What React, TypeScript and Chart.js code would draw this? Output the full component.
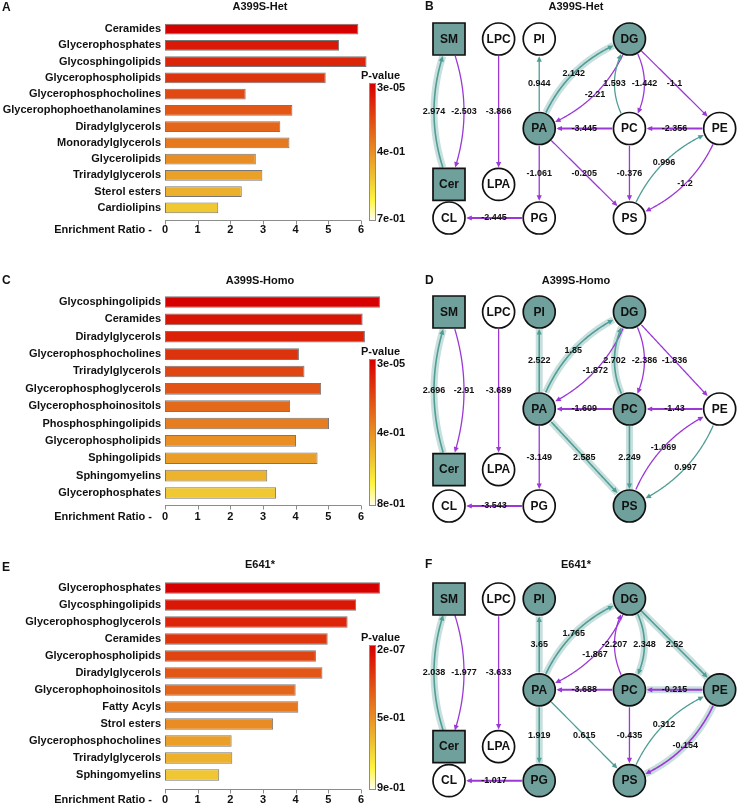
import React, { useEffect, useRef } from 'react';
import { Chart, registerables } from 'chart.js';

Chart.register(...registerables);

const FONT = "'Liberation Sans', Arial, Helvetica, sans-serif";

// ---------------- Enrichment (ORA) data ----------------
const hetCategories = ['Ceramides', 'Glycerophosphates', 'Glycosphingolipids', 'Glycerophospholipids', 'Glycerophosphocholines', 'Glycerophophoethanolamines', 'Diradylglycerols', 'Monoradylglycerols', 'Glycerolipids', 'Triradylglycerols', 'Sterol esters', 'Cardiolipins'];
const hetRatios = [5.92, 5.33, 6.17, 4.92, 2.47, 3.9, 3.53, 3.81, 2.78, 2.98, 2.35, 1.63];
const hetPValues = [0.00003, 0.064, 0.093, 0.127, 0.181, 0.211, 0.25, 0.294, 0.348, 0.392, 0.431, 0.49];
const hetPRange = [0.00003, 0.7];
const hetPTicks = ['3e-05', '4e-01', '7e-01'];

const homoCategories = ['Glycosphingolipids', 'Ceramides', 'Diradylglycerols', 'Glycerophosphocholines', 'Triradylglycerols', 'Glycerophosphoglycerols', 'Glycerophosphoinositols', 'Phosphosphingolipids', 'Glycerophospholipids', 'Sphingolipids', 'Sphingomyelins', 'Glycerophosphates'];
const homoRatios = [6.58, 6.05, 6.12, 4.1, 4.27, 4.78, 3.83, 5.02, 4.01, 4.67, 3.13, 3.4];
const homoPValues = [0.00003, 0.055, 0.094, 0.14, 0.19, 0.23, 0.29, 0.34, 0.39, 0.43, 0.49, 0.546];
const homoPRange = [0.00003, 0.78];
const homoPTicks = ['3e-05', '4e-01', '8e-01'];

const e641Categories = ['Glycerophosphates', 'Glycosphingolipids', 'Glycerophosphoglycerols', 'Ceramides', 'Glycerophospholipids', 'Diradylglycerols', 'Glycerophophoinositols', 'Fatty Acyls', 'Strol esters', 'Glycerophosphocholines', 'Triradylglycerols', 'Sphingomyelins'];
const e641Ratios = [6.58, 5.85, 5.59, 4.98, 4.62, 4.82, 4.0, 4.08, 3.31, 2.04, 2.06, 1.66];
const e641PValues = [0.0000002, 0.07, 0.12, 0.17, 0.22, 0.28, 0.33, 0.39, 0.45, 0.51, 0.57, 0.64];
const e641PRange = [0.0000002, 0.92];
const e641PTicks = ['2e-07', '5e-01', '9e-01'];

// ---------------- Network data ----------------
const nodeNames = ['SM', 'LPC', 'PI', 'DG', 'PA', 'PC', 'PE', 'Cer', 'LPA', 'CL', 'PG', 'PS'];
const nodeCols = [0, 1.1, 2, 4, 2, 4, 6, 0, 1.1, 0, 2, 4];
const nodeRows = [0, 0, 0, 0, 2, 2, 2, 3.25, 3.25, 4, 4, 4];
const squareNodes = ['SM', 'Cer'];

const hetChanged = ['SM', 'Cer', 'DG', 'PA'];
const hetEdges = ['Cer>SM', 'SM>Cer', 'LPC>LPA', 'PA>PI', 'PA>DG', 'DG>PA', 'PC>DG', 'DG>PC', 'DG>PE', 'PC>PA', 'PE>PC', 'PA>PG', 'PA>PS', 'PC>PS', 'PS>PE', 'PE>PS', 'PG>CL'];
const hetEdgeValues = [2.974, -2.503, -3.866, 0.944, 2.142, -2.21, 1.593, -1.442, -1.1, -3.445, -2.356, -1.061, -0.205, -0.376, 0.996, -1.2, -2.445];
const hetHalo = ['Cer>SM', 'PA>DG'];

const homoChanged = ['SM', 'Cer', 'PI', 'DG', 'PA', 'PC', 'PS'];
const homoEdges = ['Cer>SM', 'SM>Cer', 'LPC>LPA', 'PA>PI', 'PA>DG', 'DG>PA', 'PC>DG', 'DG>PC', 'DG>PE', 'PC>PA', 'PE>PC', 'PA>PG', 'PA>PS', 'PC>PS', 'PS>PE', 'PE>PS', 'PG>CL'];
const homoEdgeValues = [2.696, -2.91, -3.689, 2.522, 1.85, -1.872, 2.702, -2.386, -1.836, -1.609, -1.43, -3.149, 2.585, 2.249, -1.069, 0.997, -3.543];
const homoHalo = ['Cer>SM', 'PA>PI', 'PA>DG', 'PC>DG', 'PA>PS', 'PC>PS'];

const e641Changed = ['SM', 'Cer', 'PI', 'DG', 'PA', 'PC', 'PE', 'PG', 'PS'];
const e641Edges = ['Cer>SM', 'SM>Cer', 'LPC>LPA', 'PA>PI', 'PA>DG', 'DG>PA', 'PC>DG', 'DG>PC', 'DG>PE', 'PC>PA', 'PE>PC', 'PA>PG', 'PA>PS', 'PC>PS', 'PS>PE', 'PE>PS', 'PG>CL'];
const e641EdgeValues = [2.038, -1.977, -3.633, 3.65, 1.765, -1.867, -2.207, 2.348, 2.52, -3.688, -0.215, 1.919, 0.615, -0.435, 0.312, -0.154, -1.017];
const e641Halo = ['Cer>SM', 'PA>PI', 'PA>DG', 'DG>PC', 'DG>PE', 'PE>PC', 'PA>PG', 'PE>PS'];

// ---------------- styling helpers ----------------
const HEAT_STOPS: [number, number[]][] = [
  [0, [215, 0, 0]],
  [0.7, [240, 200, 50]],
  [0.85, [255, 245, 60]],
  [1, [255, 255, 242]],
];
const rgb = (c: number[]) => `rgb(${Math.round(c[0])},${Math.round(c[1])},${Math.round(c[2])})`;
function heat(t: number) {
  const v = Math.max(0, Math.min(1, t));
  for (let i = 1; i < HEAT_STOPS.length; i++) {
    const [s1, c1] = HEAT_STOPS[i];
    const [s0, c0] = HEAT_STOPS[i - 1];
    if (v <= s1) {
      const f = (v - s0) / (s1 - s0);
      return rgb(c0.map((c, k) => c + (c1[k] - c) * f));
    }
  }
  return rgb(HEAT_STOPS[HEAT_STOPS.length - 1][1]);
}

const TEAL_NODE = '#6fa09b';
const TEAL_LINE = '#4f9d95';
const PURPLE_LINE = '#9b38d6';
const HALO = 'rgba(125,180,174,0.42)';
const NODE_R = 16;
const BOW = 30;

type BarProps = {
  top: number; height: number; letter: string; title: string;
  categories: string[]; ratios: number[]; pvalues: number[]; pRange: number[]; pTicks: string[];
  bandTop: number; bandBottom: number; axisGap: number; labelPad: number; titleY: number; letterY: number;
};

function BarPanel(p: BarProps) {
  const ref = useRef<HTMLCanvasElement>(null);
  useEffect(() => {
    const W = 420;
    const colors = p.pvalues.map(v => heat((v - p.pRange[0]) / (p.pRange[1] - p.pRange[0])));
    const decor = {
      id: 'decor',
      afterDraw(chart: any) {
        const ctx = chart.ctx as CanvasRenderingContext2D;
        const xs = chart.scales.x;
        const area = chart.chartArea;
        const axisY = Math.round(area.bottom + p.axisGap) + 0.5;
        ctx.save();
        ctx.strokeStyle = '#8c8c8c';
        ctx.lineWidth = 1;
        ctx.beginPath();
        ctx.moveTo(xs.getPixelForValue(xs.min), axisY);
        ctx.lineTo(xs.getPixelForValue(xs.max), axisY);
        xs.ticks.forEach((t: any) => {
          const px = Math.round(xs.getPixelForValue(t.value)) + 0.5;
          ctx.moveTo(px, axisY);
          ctx.lineTo(px, axisY + 4);
        });
        ctx.stroke();

        ctx.fillStyle = '#111';
        ctx.font = `bold 11px ${FONT}`;
        ctx.textBaseline = 'middle';
        ctx.textAlign = 'right';
        ctx.fillText('Enrichment Ratio -', 152, area.bottom + p.labelPad + 6.6);
        ctx.textAlign = 'center';
        ctx.fillText(p.title, 260, p.titleY);
        ctx.textAlign = 'left';
        ctx.font = `bold 12px ${FONT}`;
        ctx.fillText(p.letter, 2, p.letterY);

        const cbBottom = axisY;
        const cbTop = Math.round(axisY - 0.69 * (axisY - area.top)) + 0.5;
        const cbX = 369.5, cbW = 6;
        const g = ctx.createLinearGradient(0, cbTop, 0, cbBottom);
        HEAT_STOPS.forEach(([s, c]) => g.addColorStop(s, rgb(c)));
        ctx.fillStyle = g;
        ctx.fillRect(cbX, cbTop, cbW, cbBottom - cbTop);
        ctx.strokeStyle = '#8c8c8c';
        ctx.strokeRect(cbX, cbTop, cbW, cbBottom - cbTop);
        ctx.fillStyle = '#111';
        ctx.font = `bold 11px ${FONT}`;
        ctx.textAlign = 'left';
        ctx.fillText('P-value', 361, cbTop - 8);
        ctx.fillText(p.pTicks[0], 377, cbTop + 4);
        ctx.fillText(p.pTicks[1], 377, (cbTop + cbBottom) / 2);
        ctx.fillText(p.pTicks[2], 377, cbBottom - 2);
        ctx.restore();
      },
    };
    const chart = new Chart(ref.current as HTMLCanvasElement, {
      type: 'bar',
      data: {
        labels: p.categories,
        datasets: [{
          data: p.ratios,
          backgroundColor: colors,
          borderColor: 'rgba(95,95,95,0.85)',
          borderWidth: 1,
          borderSkipped: false,
          barPercentage: 0.67,
          categoryPercentage: 1,
          clip: false as any,
        }],
      },
      options: {
        indexAxis: 'y',
        responsive: false,
        animation: false,
        events: [],
        layout: { padding: { top: p.bandTop, right: W - 361, bottom: 0, left: 0 } },
        plugins: { legend: { display: false }, tooltip: { enabled: false } },
        scales: {
          x: {
            type: 'linear', min: 0, max: 6,
            ticks: { stepSize: 1, color: '#111', padding: p.labelPad, font: { family: FONT, size: 11, weight: 'bold' } },
            grid: { display: false, drawTicks: false },
            border: { display: false },
            afterFit: (s: any) => { s.height = p.height - p.bandBottom; },
          },
          y: {
            ticks: { color: '#111', padding: 4, autoSkip: false, font: { family: FONT, size: 11, weight: 'bold' } },
            grid: { display: false, drawTicks: false },
            border: { display: false },
            afterFit: (s: any) => { s.width = 165; },
          },
        },
      } as any,
      plugins: [decor],
    });
    return () => chart.destroy();
  }, []);
  return <canvas ref={ref} width={420} height={p.height} style={{ position: 'absolute', left: 0, top: p.top, width: 420, height: p.height }} />;
}

type NetProps = {
  top: number; height: number; letter: string; title: string; titleY: number;
  padTop: number; padBottom: number; changed: string[]; edges: string[]; values: number[]; halos: string[];
};

function NetworkPanel(p: NetProps) {
  const ref = useRef<HTMLCanvasElement>(null);
  useEffect(() => {
    const W = 324;
    const edgeSet = new Set(p.edges);
    const edgePlugin = {
      id: 'edges',
      beforeDatasetsDraw(chart: any) {
        const ctx = chart.ctx as CanvasRenderingContext2D;
        const xs = chart.scales.x, ys = chart.scales.y;
        const pos = (n: string) => {
          const i = nodeNames.indexOf(n);
          return [xs.getPixelForValue(nodeCols[i]), ys.getPixelForValue(nodeRows[i])];
        };
        const paths = p.edges.map((e, ei) => {
          const [a, b] = e.split('>');
          const S = pos(a), T = pos(b);
          const curved = edgeSet.has(b + '>' + a);
          const dx = T[0] - S[0], dy = T[1] - S[1];
          const L = Math.hypot(dx, dy);
          const nx = dy / L, ny = -dx / L;
          const bow = curved ? BOW : 0;
          const C = [(S[0] + T[0]) / 2 + nx * bow, (S[1] + T[1]) / 2 + ny * bow];
          const pts: number[][] = [];
          const N = 120;
          for (let k = 0; k <= N; k++) {
            const t = k / N, u = 1 - t;
            pts.push([u * u * S[0] + 2 * u * t * C[0] + t * t * T[0], u * u * S[1] + 2 * u * t * C[1] + t * t * T[1]]);
          }
          const R = NODE_R + 0.8;
          let i0 = pts.findIndex(q => Math.hypot(q[0] - S[0], q[1] - S[1]) >= R);
          let i1 = N;
          while (i1 > 0 && Math.hypot(pts[i1][0] - T[0], pts[i1][1] - T[1]) < R) i1--;
          const value = p.values[ei];
          return {
            pts: pts.slice(i0, i1 + 1),
            mid: pts[N / 2],
            value,
            color: value >= 0 ? TEAL_LINE : PURPLE_LINE,
            halo: p.halos.includes(e),
            horizontal: Math.abs(dy) < 0.5,
          };
        });
        ctx.save();
        ctx.lineJoin = 'round';
        const stroke = (pts: number[][]) => {
          ctx.beginPath();
          pts.forEach((q, i) => (i ? ctx.lineTo(q[0], q[1]) : ctx.moveTo(q[0], q[1])));
          ctx.stroke();
        };
        // halos
        paths.forEach(pa => {
          if (!pa.halo) return;
          ctx.strokeStyle = HALO;
          ctx.lineWidth = 7;
          ctx.lineCap = 'butt';
          stroke(pa.pts);
        });
        // lines + arrows
        paths.forEach(pa => {
          ctx.strokeStyle = pa.color;
          ctx.lineWidth = pa.horizontal ? 2 : pa.halo ? 1.6 : 1.3;
          ctx.lineCap = 'butt';
          const tip = pa.pts[pa.pts.length - 1];
          const back = pa.pts[Math.max(0, pa.pts.length - 6)];
          let ux = tip[0] - back[0], uy = tip[1] - back[1];
          const ul = Math.hypot(ux, uy) || 1;
          ux /= ul; uy /= ul;
          const AL = 5.5, AW = 2.6;
          const line = pa.pts.slice(0, pa.pts.length - 3);
          line.push([tip[0] - ux * AL * 0.8, tip[1] - uy * AL * 0.8]);
          stroke(line);
          ctx.fillStyle = pa.color;
          ctx.beginPath();
          ctx.moveTo(tip[0], tip[1]);
          ctx.lineTo(tip[0] - ux * AL - uy * AW, tip[1] - uy * AL + ux * AW);
          ctx.lineTo(tip[0] - ux * AL + uy * AW, tip[1] - uy * AL - ux * AW);
          ctx.closePath();
          ctx.fill();
        });
        // labels
        ctx.fillStyle = '#111';
        ctx.font = `bold 9px ${FONT}`;
        ctx.textAlign = 'center';
        ctx.textBaseline = 'middle';
        paths.forEach(pa => ctx.fillText(String(pa.value), pa.mid[0], pa.mid[1]));
        ctx.restore();
      },
      afterDatasetsDraw(chart: any) {
        const ctx = chart.ctx as CanvasRenderingContext2D;
        const meta = chart.getDatasetMeta(0);
        ctx.save();
        ctx.fillStyle = '#111';
        ctx.font = `bold 12px ${FONT}`;
        ctx.textAlign = 'center';
        ctx.textBaseline = 'middle';
        meta.data.forEach((el: any, i: number) => ctx.fillText(nodeNames[i], el.x, el.y + 0.5));
        ctx.font = `bold 11px ${FONT}`;
        ctx.fillText(p.title, 156, p.titleY);
        ctx.textAlign = 'left';
        ctx.font = `bold 12px ${FONT}`;
        ctx.fillText(p.letter, 5, p.titleY);
        ctx.restore();
      },
    };
    const chart = new Chart(ref.current as HTMLCanvasElement, {
      type: 'scatter',
      data: {
        datasets: [{
          data: nodeNames.map((_, i) => ({ x: nodeCols[i], y: nodeRows[i] })),
          pointStyle: nodeNames.map(n => (squareNodes.includes(n) ? 'rect' : 'circle')),
          pointRadius: nodeNames.map(n => (squareNodes.includes(n) ? NODE_R * Math.SQRT2 : NODE_R)),
          backgroundColor: nodeNames.map(n => (p.changed.includes(n) ? TEAL_NODE : '#ffffff')),
          borderColor: '#111',
          borderWidth: 1.7,
          clip: false as any,
        }],
      },
      options: {
        responsive: false,
        animation: false,
        events: [],
        layout: { padding: { left: 29, right: W - 307, top: p.padTop, bottom: p.padBottom } },
        plugins: { legend: { display: false }, tooltip: { enabled: false } },
        scales: {
          x: { type: 'linear', min: 0, max: 6, display: false },
          y: { type: 'linear', min: 0, max: 4, reverse: true, display: false },
        },
      } as any,
      plugins: [edgePlugin],
    });
    return () => chart.destroy();
  }, []);
  return <canvas ref={ref} width={324} height={p.height} style={{ position: 'absolute', left: 420, top: p.top, width: 324, height: p.height }} />;
}

export default function App() {
  useEffect(() => {
    document.body.style.margin = '0';
    document.body.style.background = '#fff';
  }, []);
  return (
    <div style={{ position: 'relative', width: 744, height: 805, background: '#fff', overflow: 'hidden' }}>
      <BarPanel top={0} height={268} letter="A" title="A399S-Het" categories={hetCategories} ratios={hetRatios} pvalues={hetPValues} pRange={hetPRange} pTicks={hetPTicks} bandTop={21} bandBottom={216} axisGap={4} labelPad={7.3} titleY={7} letterY={8} />
      <BarPanel top={268} height={268} letter="C" title="A399S-Homo" categories={homoCategories} ratios={homoRatios} pvalues={homoPValues} pRange={homoPRange} pTicks={homoPTicks} bandTop={25.3} bandBottom={233.7} axisGap={3.5} labelPad={8.7} titleY={13} letterY={13} />
      <BarPanel top={536} height={269} letter="E" title="E641*" categories={e641Categories} ratios={e641Ratios} pvalues={e641PValues} pRange={e641PRange} pTicks={e641PTicks} bandTop={43.5} bandBottom={247.5} axisGap={5.5} labelPad={9.9} titleY={29} letterY={32} />
      <NetworkPanel top={0} height={268} letter="B" title="A399S-Het" titleY={7} padTop={39} padBottom={50} changed={hetChanged} edges={hetEdges} values={hetEdgeValues} halos={hetHalo} />
      <NetworkPanel top={268} height={268} letter="D" title="A399S-Homo" titleY={13} padTop={44} padBottom={30} changed={homoChanged} edges={homoEdges} values={homoEdgeValues} halos={homoHalo} />
      <NetworkPanel top={536} height={269} letter="F" title="E641*" titleY={29} padTop={63} padBottom={19} changed={e641Changed} edges={e641Edges} values={e641EdgeValues} halos={e641Halo} />
    </div>
  );
}
